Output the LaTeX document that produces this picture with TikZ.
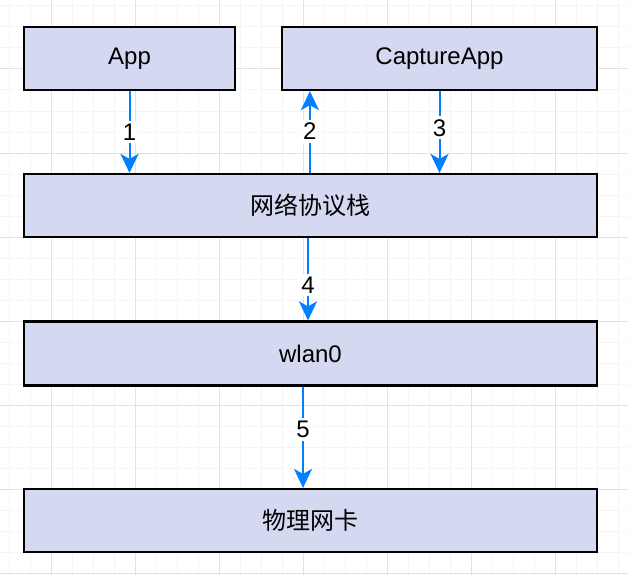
\documentclass[tikz,border=0pt]{standalone}
\usepackage{fontspec}
\setmainfont{Liberation Sans}
\newfontfamily\cjk{Noto Sans CJK SC}
\usetikzlibrary{arrows.meta}
\definecolor{boxfill}{RGB}{212,216,241}
\definecolor{flowblue}{RGB}{0,127,255}
\definecolor{gridminor}{RGB}{245,245,245}
\definecolor{gridmajor}{RGB}{226,226,226}
\tikzset{
  layer/.style={draw, line width=2.2pt, fill=boxfill, minimum height=63, inner sep=0pt,
    font=\fontsize{24}{29}\selectfont},
  flow/.style={draw=flowblue, line width=2pt, -{Stealth[length=19pt,width=18pt,inset=5pt]}},
  num/.style={fill=white, text=black, inner sep=3pt, font=\fontsize{24}{29}\selectfont},
}
\begin{document}
\begin{tikzpicture}[x=1pt, y=-1pt]
  \useasboundingbox (0,0) rectangle (628,575);
  \fill[white] (0,0) rectangle (628,575);
  % grid
  \foreach \x in {9,30,...,628} \draw[gridminor, line width=1pt] (\x,0) -- (\x,575);
  \foreach \y in {6,27,...,575} \draw[gridminor, line width=1pt] (0,\y) -- (628,\y);
  \foreach \x in {51,135,...,628} \draw[gridmajor, line width=1pt] (\x,0) -- (\x,575);
  \foreach \y in {69,153,...,575} \draw[gridmajor, line width=1pt] (0,\y) -- (628,\y);
  % layers
  \node[layer, minimum width=211] (app) at (129.5,58.5) {App};
  \node[layer, minimum width=315] (cap) at (439.5,58.5) {CaptureApp};
  \node[layer, minimum width=573] (stack) at (310.5,205.5) {\cjk 网络协议栈};
  \node[layer, minimum width=573, minimum height=64] (wlan) at (310.5,353.5) {wlan0};
  \node[layer, minimum width=573] (nic) at (310.5,520.5) {\cjk 物理网卡};
  % arrows
  \coordinate (up) at ([xshift=29pt]cap.south west);
  \coordinate (d4) at ([xshift=-2.5pt]stack.south);
  \coordinate (d5) at ([xshift=-7.5pt]wlan.south);
  \draw[flow] (app.south) -- node[num] {1} (app.south |- stack.north);
  \draw[flow] (up |- stack.north) -- node[num, pos=0.51] {2} (up);
  \draw[flow] (cap.south) -- node[num, pos=0.45] {3} (cap.south |- stack.north);
  \draw[flow] (d4) -- node[num, pos=0.57] {4} (d4 |- wlan.north);
  \draw[flow] (d5) -- node[num, pos=0.42] {5} (d5 |- nic.north);
\end{tikzpicture}
\end{document}
